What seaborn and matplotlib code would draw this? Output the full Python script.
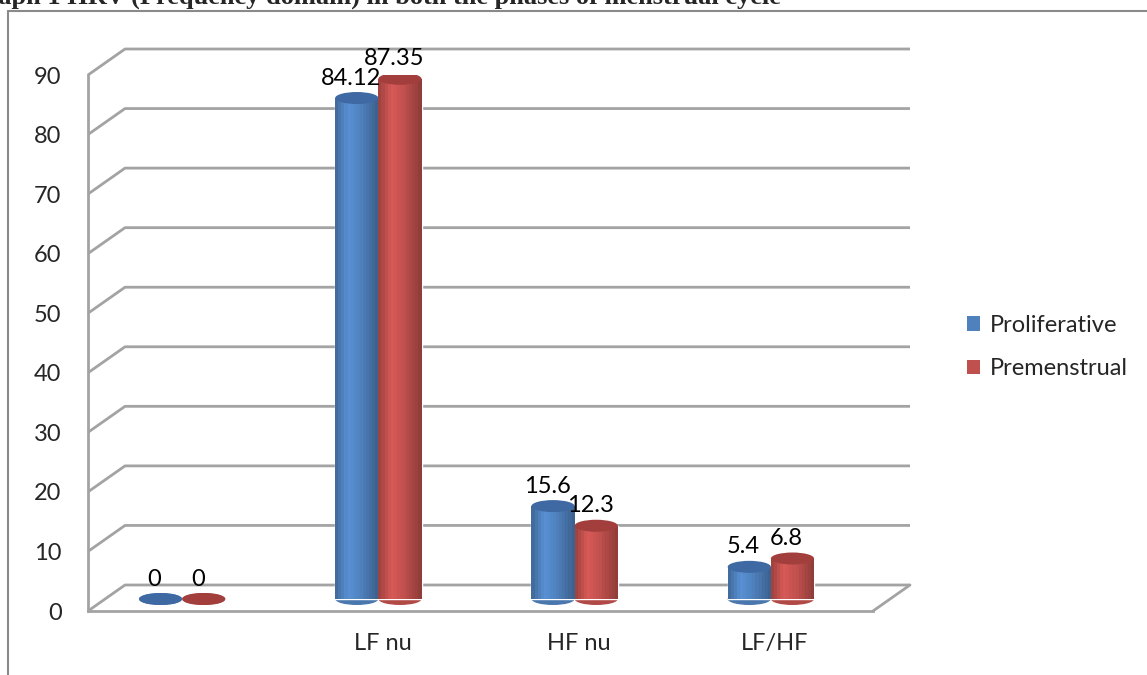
import numpy as np
import pandas as pd
import matplotlib
matplotlib.use("Agg")
import matplotlib.pyplot as plt
import matplotlib.transforms as mtrans
from matplotlib.patches import Ellipse, Rectangle, Patch
from matplotlib.lines import Line2D
from matplotlib.colors import to_rgb
import seaborn as sns

# data
categories = ["", "LF nu", "HF nu", "LF/HF"]
series = ["Proliferative", "Premenstrual"]
proliferative = [0, 84.12, 15.6, 5.4]
premenstrual = [0, 87.35, 12.3, 6.8]
y_ticks = list(range(0, 100, 10))
title = "Graph 1 HRV (Frequency domain) in both the phases of menstrual cycle"

colors = {"Proliferative": "#4F81BD", "Premenstrual": "#C0504D"}
tops = {"Proliferative": "#3E69A2", "Premenstrual": "#A23E3B"}
grid_col = "#a3a3a3"

df = pd.DataFrame({
    "category": categories * 2,
    "value": proliferative + premenstrual,
    "series": [series[0]] * len(categories) + [series[1]] * len(categories),
})

sns.set_style("white")
plt.rcParams["font.family"] = ["Lato", "DejaVu Sans"]

W, H = 1147, 675
fig = plt.figure(figsize=(W / 100, H / 100), dpi=100)
ax = fig.add_axes([88 / W, (H - 611) / H, (873 - 88) / W, (611 - 75) / H])
ax.patch.set_alpha(0)

sns.barplot(
    data=df, x="category", y="value", hue="series",
    order=categories, hue_order=series, palette=colors,
    width=0.44, gap=0, saturation=1, legend=False, ax=ax, zorder=2,
)
ax.set_xlim(-0.5, 3.5)
ax.set_ylim(0, 90)

# 3d-ish back wall / side wall grid
dx3, dy3 = 37, 26
inv = ax.transData.inverted()


def shifted(x, y, dx, dy):
    p = ax.transData.transform((x, y))
    return inv.transform(p + np.array([dx, dy]))


for v in y_ticks:
    a = (-0.5, v)
    b = shifted(-0.5, v, dx3, dy3)
    c = shifted(3.5, v, dx3, dy3)
    ax.plot([a[0], b[0], c[0]], [a[1], b[1], c[1]], color=grid_col,
            lw=2, clip_on=False, zorder=0.5, solid_capstyle="butt")
r = shifted(3.5, 0, dx3, dy3)
ax.plot([3.5, r[0]], [0, r[1]], color=grid_col, lw=2, clip_on=False, zorder=0.5)

# cylinders
bar_tr = ax.transData + mtrans.ScaledTranslation(-4 / 100, 12 / 100, fig.dpi_scale_trans)
unit_y = (611 - 75) / 90
ell_h = 12 / unit_y
n_strips = 14

for cont, name, vals in zip(ax.containers, series, [proliferative, premenstrual]):
    base = np.array(to_rgb(colors[name]))
    for bar, val in zip(cont, vals):
        bar.set_transform(bar_tr)
        x0, w, h = bar.get_x(), bar.get_width(), bar.get_height()
        cx = x0 + w / 2
        ax.add_patch(Ellipse((cx, 0), w, ell_h, facecolor=base * 0.92,
                             edgecolor="none", transform=bar_tr, zorder=1.9))
        for i in range(n_strips):
            t = (i + 0.5) / n_strips
            f = np.interp(t, [0, 0.3, 0.6, 1], [0.8, 1.12, 1.0, 0.74])
            ax.add_patch(Rectangle((x0 + i * w / n_strips, 0), w / n_strips * 1.08, h,
                                   facecolor=np.clip(base * f, 0, 1), edgecolor="none",
                                   transform=bar_tr, zorder=2.1))
        ax.add_patch(Ellipse((cx, h), w, ell_h, facecolor=tops[name],
                             edgecolor="none", transform=bar_tr, zorder=2.2))
        ax.annotate(f"{val:g}", (cx, h), xytext=(-10, 32), textcoords="offset pixels",
                    ha="center", va="center", fontsize=17, color="black",
                    annotation_clip=False, zorder=3)

# axes styling
for s in ["top", "right"]:
    ax.spines[s].set_visible(False)
for s in ["left", "bottom"]:
    ax.spines[s].set_color(grid_col)
    ax.spines[s].set_linewidth(2)
ax.set_yticks(y_ticks)
ax.set_xticks(range(len(categories)))
ax.set_xticklabels(categories)
ax.set_xticks(np.arange(-0.5, len(categories), 1), minor=True)
ax.tick_params(axis="y", length=5, width=1.5, color=grid_col, pad=14, labelsize=17)
ax.tick_params(axis="x", which="major", length=0, pad=16, labelsize=17)
ax.tick_params(axis="x", which="minor", length=4.5, width=1.5, color=grid_col, direction="out")
ax.set_xlabel("")
ax.set_ylabel("")

handles = [Patch(facecolor=colors[s], edgecolor="none") for s in series]
fig.legend(handles, series, loc="center left", bbox_to_anchor=(946 / W, 1 - 347 / H),
           frameon=False, fontsize=17, handlelength=0.55, handleheight=0.55,
           handletextpad=0.4, labelspacing=0.95)

# outer frame and clipped title
fx, fy = 8 / W, 1 - 11 / H
fig.add_artist(Line2D([fx, fx], [0, fy], color="#8a8a8a", lw=1.5))
fig.add_artist(Line2D([fx, 1], [fy, fy], color="#8a8a8a", lw=1.5))
fig.text(-34 / W, 1 - 4 / H, title, family="Liberation Serif", weight="bold",
         fontsize=19, va="baseline", ha="left")

fig.savefig("out.png", dpi=100)
